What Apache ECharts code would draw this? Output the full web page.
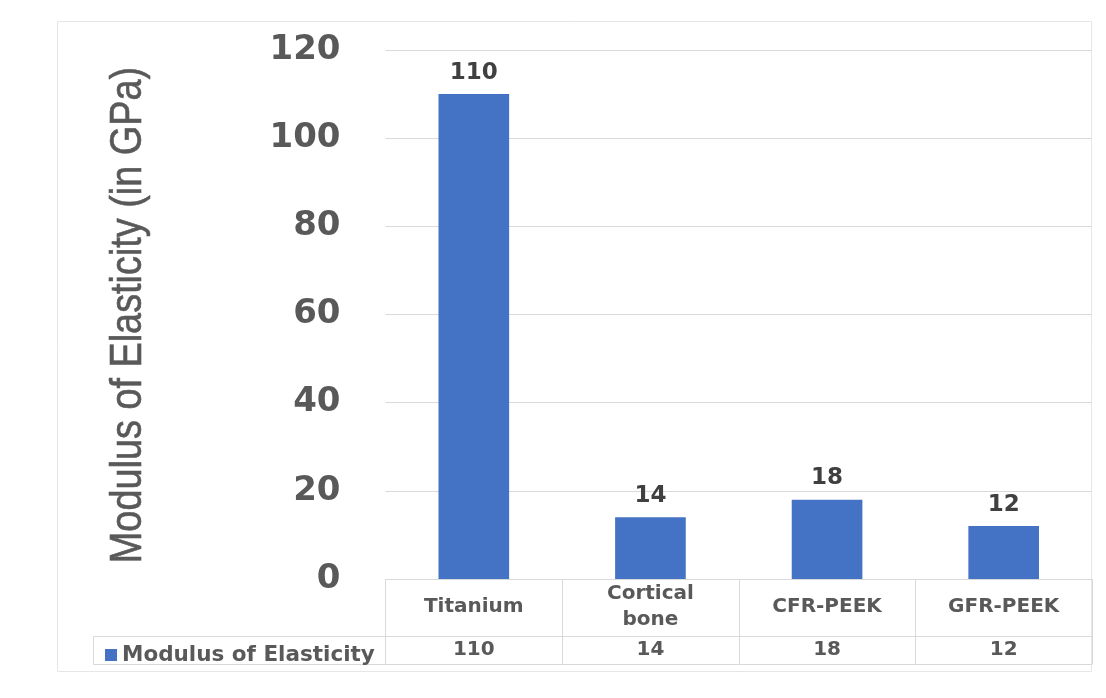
<!DOCTYPE html>
<html>
<head>
<meta charset="utf-8">
<script src="https://cdn.jsdelivr.net/npm/echarts@6/dist/echarts.min.js"></script>
<style>
  html, body { margin: 0; padding: 0; background: #ffffff; }
  #chart { width: 1106px; height: 698px; }
</style>
</head>
<body>
<div id="chart"></div>
<script>
// Modulus of elasticity of implant materials vs. cortical bone
const categories = ['Titanium', 'Cortical\nbone', 'CFR-PEEK', 'GFR-PEEK'];
const modulusValues = [110, 14, 18, 12];
const seriesName = 'Modulus of Elasticity';
const yTitle = 'Modulus of Elasticity (in GPa)';
const yTicks = [0, 20, 40, 60, 80, 100, 120];

const gridColor = '#d9d9d9';
const textColor = '#595959';
const barColor = '#4472c4';
const numFont = 'DejaVu Sans';

const chart = echarts.init(document.getElementById('chart'), null, { renderer: 'canvas' });

const option = {
  backgroundColor: '#ffffff',
  animation: false,
  grid: { left: 385.5, right: 14, top: 50, bottom: 119 },
  legend: {
    left: 100, top: 639,
    icon: 'rect', itemWidth: 12, itemHeight: 12, itemGap: 6,
    textStyle: { fontFamily: numFont, fontWeight: 'bold', fontSize: 21.5, color: textColor },
    data: [seriesName]
  },
  xAxis: [
    {
      type: 'category', data: categories, position: 'bottom',
      axisLine: { show: true, lineStyle: { color: gridColor, width: 1 } },
      axisTick: { show: true, length: 85, lineStyle: { color: gridColor, width: 1 } },
      axisLabel: {
        interval: 0, margin: 28, verticalAlign: 'middle', lineHeight: 26,
        fontFamily: numFont, fontWeight: 'bold', fontSize: 20, color: textColor
      },
      splitLine: { show: false }
    },
    {
      type: 'category', data: categories, position: 'bottom', offset: 57,
      axisLine: { show: true, lineStyle: { color: gridColor, width: 1 } },
      axisTick: { show: false },
      axisLabel: {
        interval: 0, margin: 14, verticalAlign: 'middle',
        fontFamily: numFont, fontWeight: 'bold', fontSize: 20, color: textColor,
        formatter: (v, i) => String(modulusValues[i])
      }
    },
    {
      type: 'category', data: categories, position: 'bottom', offset: 85,
      axisLine: { show: true, lineStyle: { color: gridColor, width: 1 } },
      axisTick: { show: false },
      axisLabel: { show: false }
    }
  ],
  yAxis: {
    type: 'value', min: yTicks[0], max: yTicks[yTicks.length - 1], interval: 20,
    axisLine: { show: false },
    axisTick: { show: false },
    axisLabel: {
      margin: 45, fontFamily: numFont, fontWeight: 'bold', fontSize: 34, color: textColor
    },
    splitLine: { show: true, lineStyle: { color: gridColor, width: 1 } }
  },
  series: [
    {
      name: seriesName, type: 'bar', data: modulusValues,
      barWidth: '40%',
      itemStyle: { color: barColor },
      label: {
        show: true, position: 'top', distance: 10,
        fontFamily: numFont, fontWeight: 'bold', fontSize: 23, color: '#404040'
      }
    }
  ],
  graphic: [
    // outer chart border
    { type: 'rect', silent: true, z: -1,
      shape: { x: 57.5, y: 21.5, width: 1034, height: 650 },
      style: { fill: 'none', stroke: '#e6e6e6', lineWidth: 1 } },
    // legend cell of the data table
    { type: 'rect', silent: true,
      shape: { x: 93.5, y: 636.5, width: 292, height: 28 },
      style: { fill: 'none', stroke: gridColor, lineWidth: 1 } },
    // vertical axis title in a condensed face
    { type: 'text', silent: true,
      x: 129, y: 315, rotation: Math.PI / 2, scaleX: 0.86,
      style: {
        text: yTitle, x: 0, y: 0, align: 'center', verticalAlign: 'middle',
        fontFamily: 'Liberation Sans', fontSize: 44, fill: textColor,
        stroke: textColor, lineWidth: 0.6
      } }
  ]
};

chart.setOption(option);
</script>
</body>
</html>
